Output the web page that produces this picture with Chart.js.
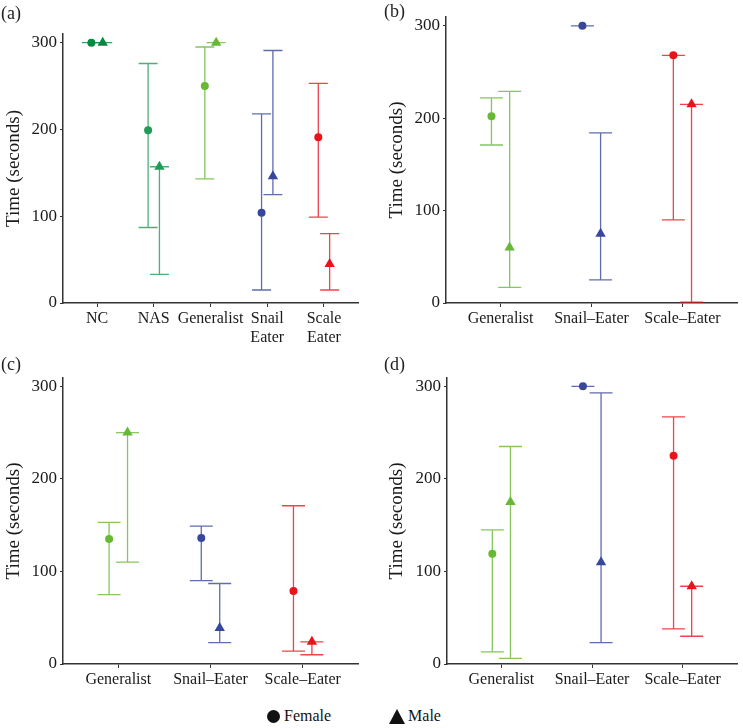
<!DOCTYPE html>
<html>
<head>
<meta charset="utf-8">
<script src="https://cdn.jsdelivr.net/npm/chart.js@4.4.0/dist/chart.umd.min.js"></script>
<style>
  body { margin: 0; background: #fff; font-family: "Liberation Serif", "Times New Roman", Tinos, "DejaVu Serif", serif; }
  #wrap { position: relative; width: 743px; height: 728px; }
  .panel { position: absolute; }
  .tag { position: absolute; font-size: 18px; color: #222; }
  #legend { position: absolute; top: 706px; left: 267px; font-size: 16px; color: #111; }
  #legend span { display: inline-block; vertical-align: middle; }
  .dot { width: 13px; height: 13px; border-radius: 50%; background: #111; margin-right: 4px; }
  .tri { width: 0; height: 0; border-left: 8px solid transparent; border-right: 8px solid transparent; border-bottom: 15px solid #111; margin-right: 3px; margin-left: 58px; }
</style>
</head>
<body>
<div id="wrap">
  <canvas id="chartA" class="panel" width="372" height="360" style="left:0;top:0"></canvas>
  <canvas id="chartB" class="panel" width="371" height="340" style="left:372px;top:0"></canvas>
  <canvas id="chartC" class="panel" width="372" height="360" style="left:0;top:340px"></canvas>
  <canvas id="chartD" class="panel" width="371" height="360" style="left:372px;top:340px"></canvas>
  <div class="tag" style="left:1px;top:3px">(a)</div>
  <div class="tag" style="left:384px;top:1px">(b)</div>
  <div class="tag" style="left:1px;top:354px">(c)</div>
  <div class="tag" style="left:384px;top:354px">(d)</div>
  <div id="legend"><span class="dot"></span><span>Female</span><span class="tri"></span><span>Male</span></div>
</div>
<script>
const serif = "'Liberation Serif', 'Times New Roman', Tinos, 'DejaVu Serif', serif";

// colours per group
const colNC = "#008a44";
const colNAS = "#1f9c57";
const colGen = "#67b835";
const colSnail = "#38479c";
const colScale = "#e8141c";

const yTicks = [0, 100, 200, 300];

// panel (a)
const catsA = ["NC", "NAS", "Generalist", ["Snail", "Eater"], ["Scale", "Eater"]];
const colorsA = [colNC, colNAS, colGen, colSnail, colScale];
const femaleA = [300, 199, 250, 104, 191];
const femaleLoA = [300, 87, 143, 15, 99];
const femaleHiA = [300, 276, 295, 218, 253];
const maleA = [300, 157, 300, 146, 45];
const maleLoA = [300, 33, 300, 125, 15];
const maleHiA = [300, 157, 300, 291, 80];

// panels (b), (c), (d)
const catsBCD = ["Generalist", "Snail\u2013Eater", "Scale\u2013Eater"];
const colorsBCD = [colGen, colSnail, colScale];

const femaleB = [202, 300, 268];
const femaleLoB = [171, 300, 90];
const femaleHiB = [222, 300, 268];
const maleB = [60, 75, 215];
const maleLoB = [17, 25, 1];
const maleHiB = [229, 184, 215];

const femaleC = [135, 136, 79];
const femaleLoC = [75, 90, 14];
const femaleHiC = [153, 149, 171];
const maleC = [250, 39, 24];
const maleLoC = [110, 23, 10];
const maleHiC = [250, 87, 24];

const femaleD = [119, 300, 225];
const femaleLoD = [13, 300, 38];
const femaleHiD = [145, 300, 267];
const maleD = [175, 110, 84];
const maleLoD = [6, 23, 30];
const maleHiD = [235, 293, 84];

function hexA(hex, a) {
  let r = parseInt(hex.substr(1, 2), 16), g = parseInt(hex.substr(3, 2), 16), b = parseInt(hex.substr(5, 2), 16);
  return "rgba(" + r + "," + g + "," + b + "," + a + ")";
}

// draws the error bars with the chart's own scales
const errorBars = {
  id: "errorBars",
  beforeDatasetsDraw(chart, args, opts) {
    const ctx = chart.ctx;
    const x = chart.scales.x, y = chart.scales.y;
    ctx.save();
    ctx.lineWidth = 1.3;
    chart.data.datasets.forEach((ds) => {
      ds.data.forEach((p, i) => {
        const px = x.getPixelForValue(p.x);
        const lo = y.getPixelForValue(p.lo);
        const hi = y.getPixelForValue(p.hi);
        ctx.strokeStyle = hexA(ds.groupColors[i], 0.8);
        ctx.beginPath();
        ctx.moveTo(px, lo); ctx.lineTo(px, hi);
        ctx.moveTo(px - opts.cap, lo); ctx.lineTo(px + opts.cap, lo);
        ctx.moveTo(px - opts.cap, hi); ctx.lineTo(px + opts.cap, hi);
        ctx.stroke();
      });
    });
    ctx.restore();
  }
};

function makePoints(vals, lo, hi, shift) {
  return vals.map((v, i) => ({ x: i + 1 + shift, y: v, lo: lo[i], hi: hi[i] }));
}

function drawPanel(id, cats, colors, fem, femLo, femHi, mal, malLo, malHi, box) {
  new Chart(document.getElementById(id), {
    type: "scatter",
    data: {
      datasets: [
        {
          label: "Female",
          data: makePoints(fem, femLo, femHi, -0.1),
          groupColors: colors,
          pointStyle: "circle",
          pointRadius: 4,
          pointBackgroundColor: colors,
          pointBorderWidth: 0,
        },
        {
          label: "Male",
          data: makePoints(mal, malLo, malHi, 0.1),
          groupColors: colors,
          pointStyle: "triangle",
          pointRadius: 6,
          pointBackgroundColor: colors,
          pointBorderWidth: 0,
        },
      ],
    },
    options: {
      responsive: false,
      animation: false,
      events: [],
      layout: { padding: { top: box.top, right: box.right, left: 0, bottom: 0 } },
      plugins: {
        legend: { display: false },
        tooltip: { enabled: false },
        errorBars: { cap: box.cap },
      },
      scales: {
        x: {
          type: "linear",
          min: 0.4,
          max: cats.length + 0.6,
          afterFit: (s) => { s.height = box.xh; },
          afterBuildTicks: (s) => { s.ticks = cats.map((c, i) => ({ value: i + 1 })); },
          ticks: {
            callback: (v) => cats[Math.round(v) - 1],
            font: { family: serif, size: 16 },
            color: "#1a1a1a",
            padding: 2,
            maxRotation: 0,
            autoSkip: false,
          },
          grid: { drawOnChartArea: false, drawTicks: true, tickLength: 4, color: "#333" },
          border: { color: "#333", width: 1.5 },
        },
        y: {
          min: 0,
          max: box.ymax,
          afterFit: (s) => { s.width = box.yw; },
          afterBuildTicks: (s) => { s.ticks = yTicks.map((v) => ({ value: v })); },
          ticks: {
            font: { family: serif, size: 17 },
            color: "#1a1a1a",
            padding: 3,
          },
          grid: { drawOnChartArea: false, drawTicks: true, tickLength: 3, color: "#333" },
          border: { color: "#333", width: 1.5 },
          title: {
            display: true,
            text: "Time (seconds)",
            font: { family: serif, size: 19 },
            color: "#1a1a1a",
            padding: { top: box.tpad, bottom: 0 },
          },
        },
      },
    },
    plugins: [errorBars],
  });
}

drawPanel("chartA", catsA, colorsA, femaleA, femaleLoA, femaleHiA, maleA, maleLoA, maleHiA,
  { top: 34, right: 14, xh: 57, yw: 63, ymax: 310, cap: 9.5, tpad: 3 });
drawPanel("chartB", catsBCD, colorsBCD, femaleB, femaleLoB, femaleHiB, maleB, maleLoB, maleHiB,
  { top: 17, right: 1, xh: 37, yw: 74, ymax: 309.5, cap: 11.5, tpad: 14 });
drawPanel("chartC", catsBCD, colorsBCD, femaleC, femaleLoC, femaleHiC, maleC, maleLoC, maleHiC,
  { top: 38, right: 14, xh: 36, yw: 63, ymax: 309, cap: 11.5, tpad: 3 });
drawPanel("chartD", catsBCD, colorsBCD, femaleD, femaleLoD, femaleHiD, maleD, maleLoD, maleHiD,
  { top: 38, right: 1, xh: 36, yw: 75, ymax: 309, cap: 11.5, tpad: 14 });
</script>
</body>
</html>
